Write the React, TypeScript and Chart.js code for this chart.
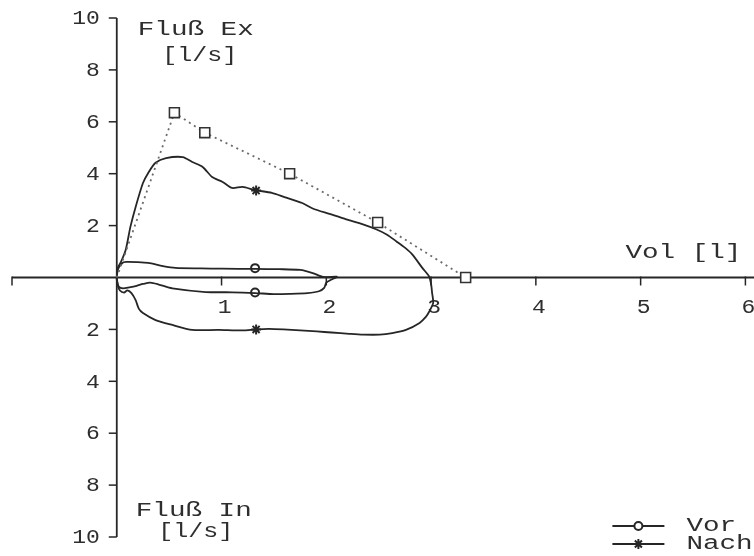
import React, { useEffect, useRef } from "react";
import { Chart, registerables } from "chart.js";
import { drawPoint } from "chart.js/helpers";

Chart.register(...registerables);

type Pt = [number, number];

// Volume [l] / Flow [l/s] pairs
const nachExpiration: Pt[] = [
  [0, 0], [0.01, 0.37], [0.04, 0.6], [0.085, 1.06], [0.13, 1.95], [0.18, 2.72],
  [0.25, 3.64], [0.3, 4.03], [0.37, 4.42], [0.47, 4.6], [0.63, 4.64], [0.72, 4.45],
  [0.82, 4.26], [0.91, 3.87], [1.01, 3.68], [1.1, 3.45], [1.2, 3.49], [1.32, 3.37],
  [1.48, 3.26], [1.6, 3.1], [1.77, 2.87], [1.87, 2.66], [2.03, 2.45], [2.19, 2.24],
  [2.35, 2.05], [2.48, 1.85], [2.58, 1.65], [2.67, 1.39], [2.75, 1.15], [2.82, 0.89],
  [2.92, 0.35], [2.98, 0.05],
];
const nachInspiration: Pt[] = [
  [3.0, -0.25], [3.01, -0.6], [3.02, -0.98], [2.98, -1.33], [2.95, -1.52],
  [2.89, -1.75], [2.76, -2.02], [2.63, -2.14], [2.51, -2.2], [2.35, -2.2],
  [2.22, -2.17], [2.05, -2.12], [1.91, -2.08], [1.75, -2.04], [1.59, -2.0],
  [1.45, -1.98], [1.33, -2.0], [1.2, -2.04], [0.97, -2.02], [0.72, -2.02],
  [0.53, -1.83], [0.37, -1.64], [0.25, -1.37], [0.21, -1.2], [0.18, -0.87],
  [0.14, -0.6], [0.1, -0.5], [0.07, -0.58], [0.03, -0.5], [0.01, -0.3], [0, 0],
];
const vorExpiration: Pt[] = [
  [0, 0], [0.01, 0.3], [0.05, 0.55], [0.09, 0.6], [0.2, 0.59], [0.3, 0.56],
  [0.44, 0.44], [0.56, 0.37], [0.8, 0.35], [1.0, 0.34], [1.32, 0.33], [1.55, 0.32],
  [1.75, 0.29], [1.87, 0.17], [1.97, 0.02], [2.1, 0.03],
];
const vorInspiration: Pt[] = [
  [2.05, -0.08], [2.0, -0.2], [1.98, -0.4], [1.93, -0.53], [1.82, -0.6],
  [1.65, -0.63], [1.5, -0.64], [1.32, -0.6], [1.1, -0.57], [0.85, -0.56],
  [0.53, -0.42], [0.4, -0.27], [0.32, -0.2], [0.25, -0.25], [0.19, -0.32],
  [0.12, -0.38], [0.06, -0.42], [0.02, -0.36], [0, -0.1], [0, 0],
];
const sollwert: Pt[] = [
  [0, 0], [0.55, 6.35], [0.84, 5.58], [1.65, 4.0], [2.49, 2.12], [3.33, 0],
];
const vorMarks: Pt[] = [[1.32, 0.36], [1.32, -0.58]];
const nachMarks: Pt[] = [[1.33, 3.35], [1.33, -2.0]];

const flowTicks = [10, 8, 6, 4, 2, -2, -4, -6, -8, -10];
const volTicks = [-1, 1, 2, 3, 4, 5, 6];
const volTickLabels = ["", "1", "2", "3", "4", "5", "6"];
const flowExTitle = ["Fluß Ex", "[l/s]"];
const flowInTitle = ["Fluß In", "[l/s]"];
const volTitle = "Vol [l]";
const legendLabels = ["Vor", "Nach"];

const INK = "#262626";
const TEXT = "#2e2e2e";
const FONT = '20px "Liberation Mono", "DejaVu Sans Mono", monospace';

const toXY = (pts: Pt[]) => pts.map(([x, y]) => ({ x, y }));

function text(ctx: CanvasRenderingContext2D, s: string, x: number, y: number, align: CanvasTextAlign, sx: number) {
  ctx.save();
  ctx.translate(x, y);
  ctx.scale(sx, 1);
  ctx.textAlign = align;
  ctx.textBaseline = "middle";
  ctx.fillText(s, 0, 0);
  ctx.restore();
}

const axesPlugin = {
  id: "flowVolumeAxes",
  beforeDatasetsDraw(chart: any) {
    const { ctx, scales } = chart;
    const xs = scales.x;
    const ys = scales.y;
    const x0 = xs.getPixelForValue(0);
    const y0 = ys.getPixelForValue(0);
    ctx.save();
    ctx.strokeStyle = INK;
    ctx.fillStyle = TEXT;
    ctx.lineWidth = 1.8;
    ctx.font = FONT;
    // y axis
    ctx.beginPath();
    ctx.moveTo(x0, ys.getPixelForValue(10));
    ctx.lineTo(x0, ys.getPixelForValue(-10));
    ctx.stroke();
    // x axis
    ctx.beginPath();
    ctx.moveTo(xs.getPixelForValue(-1), y0);
    ctx.lineTo(chart.width, y0);
    ctx.stroke();
    ctx.lineWidth = 1.5;
    // y ticks
    flowTicks.forEach((v) => {
      const py = ys.getPixelForValue(v);
      ctx.beginPath();
      ctx.moveTo(x0 - 8, py);
      ctx.lineTo(x0, py);
      ctx.stroke();
      text(ctx, String(Math.abs(v)), x0 - 17, py + 1, "right", 1.15);
    });
    // x ticks
    volTicks.forEach((v, i) => {
      const px = xs.getPixelForValue(v);
      ctx.beginPath();
      ctx.moveTo(px, y0 - 1);
      ctx.lineTo(px, y0 + 8);
      ctx.stroke();
      if (volTickLabels[i]) text(ctx, volTickLabels[i], px + 3, y0 + 30, "center", 1.15);
    });
    // titles
    const top = ys.getPixelForValue(10);
    const bot = ys.getPixelForValue(-10);
    text(ctx, flowExTitle[0], x0 + 21, top + 12, "left", 1.38);
    text(ctx, flowExTitle[1], x0 + 83, top + 38, "center", 1.25);
    text(ctx, flowInTitle[0], x0 + 19, bot - 26, "left", 1.38);
    text(ctx, flowInTitle[1], x0 + 79, bot - 5, "center", 1.25);
    text(ctx, volTitle, xs.right - 4, y0 - 25, "right", 1.38);
    ctx.restore();
  },
  afterDatasetsDraw(chart: any) {
    const { ctx, chartArea } = chart;
    const items = [chart.data.datasets[3], chart.data.datasets[4]];
    ctx.save();
    ctx.font = FONT;
    items.forEach((ds: any, i: number) => {
      const y = chartArea.bottom - 11 + i * 18;
      const xl = chartArea.right - 133;
      const xr = chartArea.right - 81;
      ctx.strokeStyle = INK;
      ctx.lineWidth = 1.8;
      ctx.beginPath();
      ctx.moveTo(xl, y);
      ctx.lineTo(xr, y);
      ctx.stroke();
      ctx.fillStyle = ds.pointBackgroundColor;
      ctx.strokeStyle = ds.pointBorderColor;
      ctx.lineWidth = ds.pointBorderWidth;
      drawPoint(ctx, { pointStyle: ds.pointStyle, radius: ds.pointRadius, rotation: 0, borderWidth: ds.pointBorderWidth }, (xl + xr) / 2, y);
      ctx.fillStyle = TEXT;
      text(ctx, legendLabels[i], chartArea.right - 59, y, "left", 1.38);
    });
    ctx.restore();
  },
};

export default function App() {
  const ref = useRef<HTMLCanvasElement>(null);
  useEffect(() => {
    if (!ref.current) return;
    const chart = new Chart(ref.current, {
      type: "scatter",
      data: {
        datasets: [
          {
            label: "Soll",
            data: toXY(sollwert),
            showLine: true,
            borderColor: "#6a6a6a",
            borderWidth: 1.8,
            borderDash: [2, 4],
            pointStyle: "rect",
            pointRadius: (c: any) => (c.dataIndex === 0 ? 0 : 7),
            pointBackgroundColor: "#fff",
            pointBorderColor: "#333",
            pointBorderWidth: 1.6,
          },
          {
            label: "Vor loop",
            data: toXY([...vorExpiration, ...vorInspiration]),
            showLine: true,
            borderColor: INK,
            borderWidth: 1.8,
            pointRadius: 0,
            tension: 0.25,
          },
          {
            label: "Nach loop",
            data: toXY([...nachExpiration, ...nachInspiration]),
            showLine: true,
            borderColor: INK,
            borderWidth: 1.8,
            pointRadius: 0,
            tension: 0.25,
          },
          {
            label: legendLabels[0],
            data: toXY(vorMarks),
            showLine: false,
            pointStyle: "circle",
            pointRadius: 4,
            pointBackgroundColor: "#fff",
            pointBorderColor: INK,
            pointBorderWidth: 2,
          },
          {
            label: legendLabels[1],
            data: toXY(nachMarks),
            showLine: false,
            pointStyle: "star",
            pointRadius: 5,
            pointBackgroundColor: INK,
            pointBorderColor: INK,
            pointBorderWidth: 2,
          },
        ],
      } as any,
      options: {
        responsive: false,
        animation: false,
        layout: { padding: { left: 12, right: 8, top: 18, bottom: 19 } },
        scales: {
          x: { type: "linear", min: -1, max: 6, display: false },
          y: { type: "linear", min: -10, max: 10, display: false },
        },
        plugins: { legend: { display: false }, tooltip: { enabled: false } },
      },
      plugins: [axesPlugin],
    });
    return () => chart.destroy();
  }, []);
  return (
    <div style={{ position: "absolute", left: 0, top: 0, width: 754, height: 556, background: "#fff" }}>
      <canvas ref={ref} width={754} height={556} style={{ display: "block" }} />
    </div>
  );
}
